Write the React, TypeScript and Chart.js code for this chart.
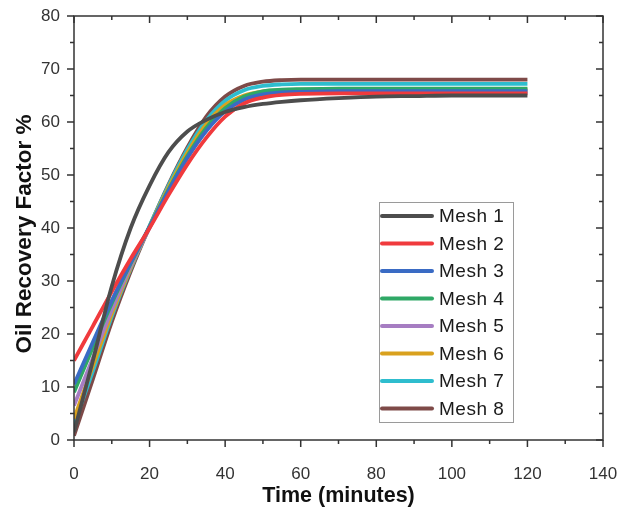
import React, { useEffect, useRef } from "react";
import { Chart, registerables } from "chart.js";

Chart.register(...registerables);

const timeMinutes = [0, 5, 10, 15, 20, 25, 30, 35, 40, 45, 50, 55, 60, 70, 80, 90, 100, 110, 120];

const mesh1 = [1.5, 15, 29, 40, 48, 54.3, 58.2, 60.4, 61.9, 62.8, 63.4, 63.8, 64.1, 64.5, 64.8, 64.9, 65, 65, 65];
const mesh2 = [15, 21.5, 28, 34.2, 40, 46.2, 52, 57, 61, 63.5, 64.6, 65.1, 65.3, 65.4, 65.4, 65.4, 65.4, 65.4, 65.4];
const mesh3 = [10.5, 18.5, 26.3, 33.5, 40.2, 47, 53.2, 58.3, 62, 64.2, 65.2, 65.6, 65.7, 65.8, 65.8, 65.8, 65.8, 65.8, 65.8];
const mesh4 = [9, 17.5, 25.8, 33.3, 40.2, 47.2, 53.6, 58.9, 62.6, 64.8, 65.8, 66.1, 66.2, 66.3, 66.3, 66.3, 66.3, 66.3, 66.3];
const mesh5 = [6.5, 15.5, 24.5, 32.8, 40, 47, 53.4, 58.7, 62.3, 64.3, 65.2, 65.5, 65.6, 65.6, 65.6, 65.6, 65.6, 65.6, 65.6];
const mesh6 = [4, 14, 23.8, 32.5, 40.2, 47.6, 54.2, 59.6, 63.2, 65, 65.8, 66, 66.1, 66.1, 66.1, 66.1, 66.1, 66.1, 66.1];
const mesh7 = [3, 13, 23.3, 32.3, 40.4, 48, 54.8, 60.3, 64, 66, 66.8, 67.1, 67.2, 67.2, 67.2, 67.2, 67.2, 67.2, 67.2];
const mesh8 = [0.8, 11.5, 22.3, 31.8, 40.3, 48.2, 55.2, 61, 64.8, 66.8, 67.6, 67.9, 68, 68, 68, 68, 68, 68, 68];

const seriesNames = ["Mesh 1", "Mesh 2", "Mesh 3", "Mesh 4", "Mesh 5", "Mesh 6", "Mesh 7", "Mesh 8"];
const seriesValues = [mesh1, mesh2, mesh3, mesh4, mesh5, mesh6, mesh7, mesh8];
const seriesColors = ["#4d4d4d", "#f03a3d", "#3a6bc4", "#2fa866", "#a67dc2", "#d9a11e", "#2ebdce", "#7e4a48"];

const xTitle = "Time (minutes)";
const yTitle = "Oil Recovery Factor %";

const AXIS_COLOR = "#333333";
const FONT = "'Liberation Sans', Arial, Helvetica, sans-serif";

const framePlugin = {
  id: "frame",
  afterDraw(chart: any) {
    const { ctx, chartArea } = chart;
    const xs = chart.scales.x;
    const ys = chart.scales.y;
    const { left, right, top, bottom } = chartArea;
    ctx.save();
    ctx.strokeStyle = AXIS_COLOR;
    ctx.lineWidth = 1.5;
    ctx.strokeRect(left, top, right - left, bottom - top);
    ctx.beginPath();
    for (let v = 0; v <= 140; v += 10) {
      const px = xs.getPixelForValue(v);
      const len = v % 20 === 0 ? 7 : 4;
      ctx.moveTo(px, bottom);
      ctx.lineTo(px, bottom + len);
      ctx.moveTo(px, top);
      ctx.lineTo(px, top + len);
    }
    for (let v = 0; v <= 80; v += 5) {
      const py = ys.getPixelForValue(v);
      const len = v % 10 === 0 ? 7 : 4;
      ctx.moveTo(left, py);
      ctx.lineTo(left - len, py);
      ctx.moveTo(right, py);
      ctx.lineTo(right - len, py);
    }
    ctx.stroke();

    // vertical axis title
    ctx.save();
    ctx.translate(25, (top + bottom) / 2 + 6);
    ctx.rotate(-Math.PI / 2);
    ctx.font = `bold 22.5px ${FONT}`;
    ctx.fillStyle = "#111";
    ctx.textAlign = "center";
    ctx.textBaseline = "middle";
    ctx.fillText(yTitle, 0, 0);
    ctx.restore();
    ctx.restore();
  },
};

const legendPlugin = {
  id: "boxLegend",
  afterDraw(chart: any) {
    const { ctx } = chart;
    const boxLeft = 379;
    const boxTop = 202;
    const boxW = 134;
    const boxH = 220;
    const rowH = 27.5;
    ctx.save();
    ctx.strokeStyle = "#9a9a9a";
    ctx.lineWidth = 1;
    ctx.strokeRect(boxLeft + 0.5, boxTop + 0.5, boxW, boxH);
    ctx.font = `19px ${FONT}`;
    try {
      (ctx as any).letterSpacing = "0.5px";
    } catch (e) {}
    ctx.textBaseline = "middle";
    ctx.textAlign = "left";
    chart.data.datasets.forEach((ds: any, i: number) => {
      const y = boxTop + 14 + i * rowH;
      ctx.strokeStyle = ds.borderColor;
      ctx.lineWidth = 4;
      ctx.lineCap = "round";
      ctx.beginPath();
      ctx.moveTo(boxLeft + 3, y);
      ctx.lineTo(boxLeft + 53, y);
      ctx.stroke();
      ctx.fillStyle = "#1a1a1a";
      ctx.fillText(ds.label, boxLeft + 60, y + 1);
    });
    ctx.restore();
  },
};

export default function App() {
  const canvasRef = useRef<HTMLCanvasElement | null>(null);

  useEffect(() => {
    if (!canvasRef.current) return;
    const datasets = seriesValues.map((vals, i) => ({
      label: seriesNames[i],
      data: vals.map((y, j) => ({ x: timeMinutes[j], y })),
      borderColor: seriesColors[i],
      backgroundColor: seriesColors[i],
      borderWidth: 3.8,
      pointRadius: 0,
      cubicInterpolationMode: "monotone" as const,
      fill: false,
    }));
    const chart = new Chart(canvasRef.current, {
      type: "line",
      data: { datasets },
      options: {
        animation: false,
        responsive: false,
        maintainAspectRatio: false,
        layout: { padding: { top: 16, right: 17, left: 0, bottom: 0 } },
        plugins: { legend: { display: false }, tooltip: { enabled: false } },
        scales: {
          x: {
            type: "linear",
            min: 0,
            max: 140,
            grid: { display: false, drawTicks: false },
            border: { display: false },
            ticks: {
              stepSize: 20,
              padding: 24,
              color: AXIS_COLOR,
              font: { family: FONT, size: 17 },
              maxRotation: 0,
            },
            title: {
              display: true,
              text: xTitle,
              color: "#111",
              font: { family: FONT, size: 21.5, weight: "bold" },
              padding: { top: 0, bottom: 2 },
            },
            afterFit(scale: any) {
              scale.height = 71;
              scale.paddingLeft = 0;
              scale.paddingRight = 0;
            },
          },
          y: {
            type: "linear",
            min: 0,
            max: 80,
            grid: { display: false, drawTicks: false },
            border: { display: false },
            ticks: {
              stepSize: 10,
              padding: 14,
              color: AXIS_COLOR,
              font: { family: FONT, size: 17 },
            },
            title: { display: false },
            afterFit(scale: any) {
              scale.width = 74;
              scale.paddingTop = 0;
              scale.paddingBottom = 0;
            },
          },
        },
      },
      plugins: [framePlugin, legendPlugin],
    });
    return () => chart.destroy();
  }, []);

  return (
    <div style={{ position: "fixed", left: 0, top: 0, width: 620, height: 511, background: "#fff" }}>
      <canvas ref={canvasRef} width={620} height={511} style={{ display: "block" }} />
    </div>
  );
}
